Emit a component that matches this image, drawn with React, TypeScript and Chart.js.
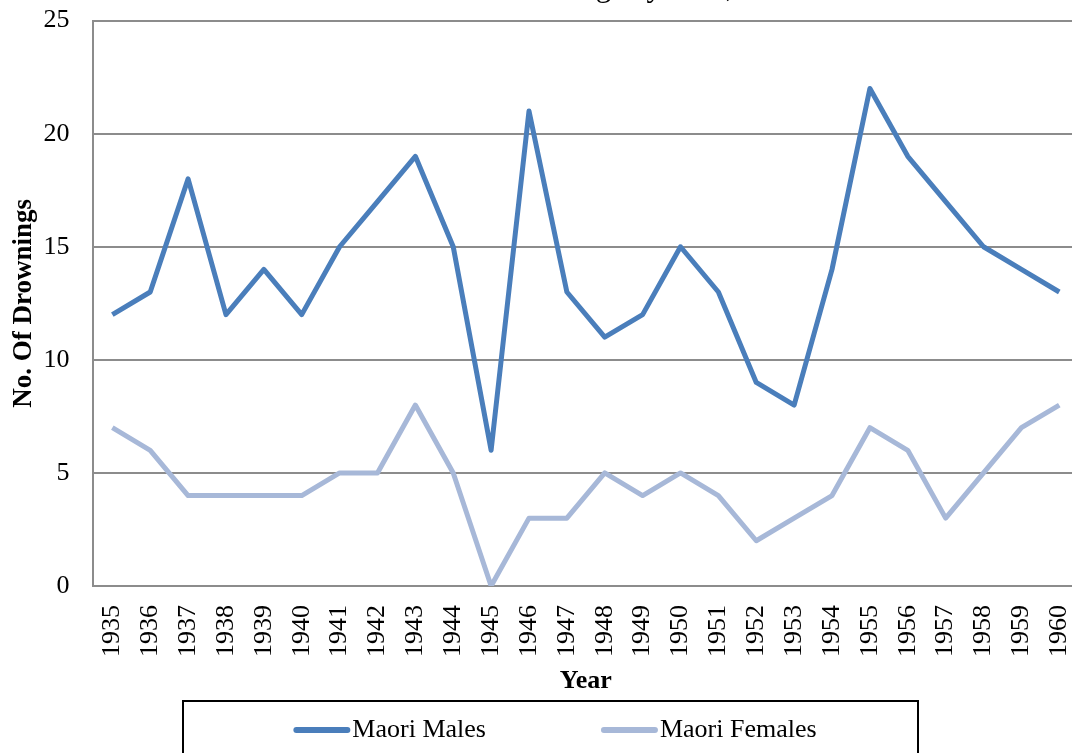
import React, { useEffect, useRef } from "react";
import { Chart, registerables } from "chart.js";

Chart.register(...registerables);

const years = [
  "1935", "1936", "1937", "1938", "1939", "1940", "1941", "1942", "1943",
  "1944", "1945", "1946", "1947", "1948", "1949", "1950", "1951", "1952",
  "1953", "1954", "1955", "1956", "1957", "1958", "1959", "1960",
];
const maoriMales = [12, 13, 18, 12, 14, 12, 15, 17, 19, 15, 6, 21, 13, 11, 12, 15, 13, 9, 8, 14, 22, 19, 17, 15, 14, 13];
const maoriFemales = [7, 6, 4, 4, 4, 4, 5, 5, 8, 5, 0, 3, 3, 5, 4, 5, 4, 2, 3, 4, 7, 6, 3, 5, 7, 8];
const titleText = "Maori Drownings by Year, 1935-1960";
const yTitle = "No. Of Drownings";
const xTitle = "Year";

const FONT = "'Liberation Serif', 'Times New Roman', serif";
const GRID = "#8c8c8c";

const cutTitle = {
  id: "cutTitle",
  afterDraw(chart: any) {
    const ctx = chart.ctx;
    ctx.save();
    ctx.font = `31px ${FONT}`;
    ctx.fillStyle = "#000";
    ctx.textBaseline = "alphabetic";
    ctx.textAlign = "left";
    ctx.fillText(titleText, 402, 15);
    ctx.restore();
  },
};

const boxLegend = {
  id: "boxLegend",
  afterDraw(chart: any) {
    const ctx = chart.ctx;
    const cx = chart.width / 2;
    const top = chart.chartArea.bottom + 115;
    ctx.save();
    ctx.strokeStyle = "#000";
    ctx.lineWidth = 2;
    ctx.strokeRect(cx - 372, top, 735, 62);
    ctx.font = `26px ${FONT}`;
    ctx.textBaseline = "middle";
    const lineW = 57;
    const gap = 2;
    const itemGap = 115;
    const items = chart.data.datasets.map((d: any) => ({
      label: d.label,
      color: d.borderColor,
      w: lineW + gap + ctx.measureText(d.label).width,
    }));
    const total = items.reduce((s: number, it: any) => s + it.w, 0) + itemGap * (items.length - 1);
    let x = cx - total / 2;
    const y = top + 29;
    items.forEach((it: any) => {
      ctx.strokeStyle = it.color;
      ctx.lineWidth = 6;
      ctx.lineCap = "round";
      ctx.beginPath();
      ctx.moveTo(x + 3, y);
      ctx.lineTo(x + lineW - 3, y);
      ctx.stroke();
      ctx.fillStyle = "#000";
      ctx.fillText(it.label, x + lineW + gap, y);
      x += it.w + itemGap;
    });
    ctx.restore();
  },
};

export default function App() {
  const ref = useRef<HTMLCanvasElement>(null);
  useEffect(() => {
    if (!ref.current) return;
    const chart = new Chart(ref.current, {
      type: "line",
      data: {
        labels: years,
        datasets: [
          {
            label: "Maori Males",
            data: maoriMales,
            borderColor: "#4a7ebb",
            borderWidth: 5,
            pointRadius: 0,
            tension: 0,
            borderJoinStyle: "round",
          },
          {
            label: "Maori Females",
            data: maoriFemales,
            borderColor: "#a7b8d8",
            borderWidth: 5,
            pointRadius: 0,
            tension: 0,
            borderJoinStyle: "round",
          },
        ],
      },
      options: {
        animation: false,
        responsive: false,
        devicePixelRatio: 1,
        layout: { padding: { top: 7, right: 27, bottom: 87, left: 0 } },
        plugins: {
          legend: { display: false },
          tooltip: { enabled: false },
          title: { display: false },
        },
        scales: {
          x: {
            offset: true,
            grid: { display: false, drawTicks: false },
            border: { display: true, color: GRID, width: 2 },
            ticks: {
              color: "#000",
              font: { family: FONT, size: 26 },
              minRotation: 90,
              maxRotation: 90,
              padding: 19,
              autoSkip: false,
            },
            title: {
              display: true,
              text: xTitle,
              color: "#000",
              font: { family: FONT, size: 26, weight: "bold", lineHeight: 1 },
              padding: { top: -8, bottom: 0 },
            },
          },
          y: {
            min: 0,
            max: 25,
            grid: { color: GRID, lineWidth: 2, drawTicks: false },
            border: { display: true, color: GRID, width: 2 },
            ticks: {
              stepSize: 5,
              color: "#000",
              font: { family: FONT, size: 26 },
              padding: 24,
            },
            title: {
              display: true,
              text: yTitle,
              color: "#000",
              font: { family: FONT, size: 27, weight: "bold" },
              padding: { top: 8, bottom: -21 },
            },
          },
        },
      },
      plugins: [cutTitle, boxLegend],
    });
    return () => chart.destroy();
  }, []);
  return (
    <div style={{ position: "fixed", left: 0, top: 0, width: 1072, height: 753, overflow: "hidden", background: "#fff" }}>
      <canvas
        ref={ref}
        width={1110}
        height={800}
        style={{ position: "absolute", left: 0, top: -19, width: 1110, height: 800 }}
      />
    </div>
  );
}
